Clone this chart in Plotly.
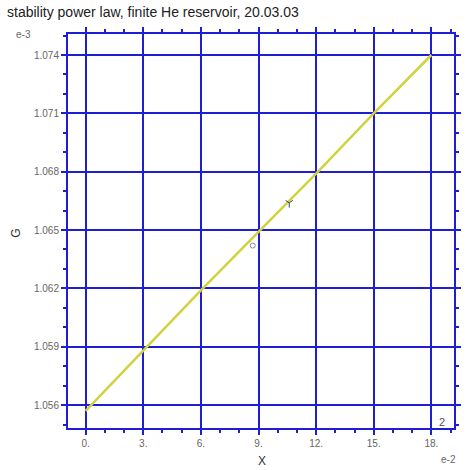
import plotly.graph_objects as go

# Stability curve (X in units of 1e-2, G in units of 1e-3)
x_vals = [0, 3, 6, 9, 12, 15, 18]
g_vals = [1.0557, 1.0588, 1.0619, 1.0649, 1.0679, 1.0710, 1.0740]

# Isolated markers along the curve
mark_circle_x = [8.7]
mark_circle_g = [1.0642]
mark_cross_x = [10.6]
mark_cross_g = [1.0664]

x_ticks = [0, 3, 6, 9, 12, 15, 18]
x_ticktext = ["0.", "3.", "6.", "9.", "12.", "15.", "18."]
g_ticks = [1.056, 1.059, 1.062, 1.065, 1.068, 1.071, 1.074]
g_ticktext = ["1.056", "1.059", "1.062", "1.065", "1.068", "1.071", "1.074"]

BLUE = "#1e1ed2"
GRAY = "#666666"
FONT = "Liberation Sans, Arial, sans-serif"

fig = go.Figure()
fig.add_trace(go.Scatter(
    x=x_vals, y=g_vals, mode="lines",
    line=dict(color="#d2d240", width=2.5),
    hoverinfo="skip", showlegend=False,
))
fig.add_trace(go.Scatter(
    x=mark_circle_x, y=mark_circle_g, mode="markers",
    marker=dict(symbol="circle-open", size=5, color="#8888aa", line=dict(width=1)),
    showlegend=False,
))
fig.add_trace(go.Scatter(
    x=mark_cross_x, y=mark_cross_g, mode="markers",
    marker=dict(symbol="y-down-open", size=6, color="#334466", line=dict(width=1)),
    showlegend=False,
))

axis_common = dict(
    showgrid=True, gridcolor=BLUE, gridwidth=2,
    showline=True, linecolor=BLUE, linewidth=2, mirror="ticks",
    ticks="outside", ticklen=5, tickwidth=2, tickcolor=BLUE,
    zeroline=False,
    tickfont=dict(family=FONT, size=10, color=GRAY),
)

fig.update_layout(
    width=471, height=470,
    margin=dict(l=68, r=10, t=34, b=42),
    paper_bgcolor="white", plot_bgcolor="white",
    font=dict(family=FONT),
    xaxis=dict(
        range=[-0.92, 19.18], tickmode="array",
        tickvals=x_ticks, ticktext=x_ticktext,
        minor=dict(dtick=1, ticks="outside", ticklen=3, tickwidth=2,
                   tickcolor=BLUE, showgrid=False),
        **axis_common,
    ),
    yaxis=dict(
        range=[1.05482, 1.07508], tickmode="array",
        tickvals=g_ticks, ticktext=g_ticktext,
        minor=dict(dtick=0.001, tick0=1.056, ticks="outside", ticklen=3,
                   tickwidth=2, tickcolor=BLUE, showgrid=False),
        **axis_common,
    ),
    annotations=[
        dict(text="stability power law, finite He reservoir, 20.03.03",
             xref="paper", yref="paper", x=-0.162, y=1.056,
             xanchor="left", yanchor="middle", showarrow=False,
             font=dict(family=FONT, size=14, color="#222222")),
        dict(text="e-3", xref="paper", yref="paper", x=-0.115, y=1.0,
             xanchor="center", yanchor="middle", showarrow=False,
             font=dict(family=FONT, size=10, color=GRAY)),
        dict(text="G", xref="paper", yref="paper", x=-0.135, y=0.495,
             xanchor="center", yanchor="middle", showarrow=False,
             textangle=-90,
             font=dict(family=FONT, size=12, color="#333333")),
        dict(text="X", xref="paper", yref="paper", x=0.502, y=-0.085,
             xanchor="center", yanchor="middle", showarrow=False,
             font=dict(family=FONT, size=12, color="#333333")),
        dict(text="e-2", xref="paper", yref="paper", x=0.985, y=-0.08,
             xanchor="center", yanchor="middle", showarrow=False,
             font=dict(family=FONT, size=10, color=GRAY)),
        dict(text="2", xref="paper", yref="paper", x=0.968, y=0.015,
             xanchor="center", yanchor="middle", showarrow=False,
             font=dict(family=FONT, size=11, color="#555555")),
    ],
)

fig.write_html("out.html")
